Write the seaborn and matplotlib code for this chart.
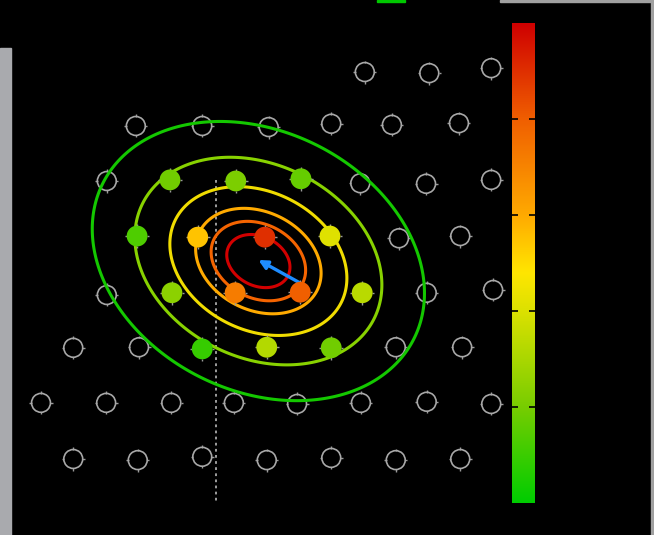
import numpy as np
import pandas as pd
import matplotlib
matplotlib.use("Agg")
import matplotlib.pyplot as plt
from matplotlib.colors import LinearSegmentedColormap
from matplotlib.path import Path
from matplotlib.markers import MarkerStyle
from matplotlib.patches import Rectangle
import seaborn as sns

# ---- samples that were not evaluated (hollow grid points) ----
idle_x = [5.02, 6.02, 6.98,
          1.47, 2.50, 3.53, 4.50, 5.44, 6.48,
          1.02, 4.95, 5.97, 6.98,
          5.55, 6.50,
          1.02, 5.98, 7.01,
          0.50, 1.52, 5.50, 6.53,
          0.00, 1.01, 2.02, 2.99, 3.97, 4.96, 5.98, 6.98,
          0.50, 1.50, 2.50, 3.50, 4.50, 5.50, 6.50]
idle_y = [6.96, 6.94, 7.03,
          5.99, 5.99, 5.97, 6.03, 6.01, 6.04,
          5.00, 4.96, 4.95, 5.02,
          3.97, 4.01,
          2.95, 2.99, 3.04,
          2.00, 2.01, 2.01, 2.01,
          1.01, 1.01, 1.01, 1.01, 0.99, 1.01, 1.03, 0.99,
          0.00, -0.02, 0.04, -0.02, 0.02, -0.02, 0.00]

# ---- evaluated samples and their scores ----
eval_x = [2.00, 3.02, 4.03,
          1.49, 2.43, 3.47, 4.48,
          2.03, 3.01, 4.02, 4.98,
          2.50, 3.50, 4.50]
eval_y = [5.02, 5.00, 5.04,
          4.01, 3.99, 3.99, 4.01,
          2.99, 2.99, 3.00, 2.99,
          1.98, 2.01, 2.00]
eval_score = [0.19, 0.21, 0.17,
              0.13, 0.55, 0.90, 0.41,
              0.24, 0.72, 0.80, 0.33,
              0.09, 0.32, 0.19]

# ---- fitted Gaussian surface ----
mean_xy = [3.37, 3.56]
sigma_xy = [1.20, 1.17]
rho = -0.23
contour_levels = [0.10, 0.28, 0.52, 0.72, 0.83, 0.92]
contour_colors = ["#14c800", "#88d200", "#f0dc00", "#ffaa00", "#f56400", "#d20000"]

# gradient step from an evaluated sample toward the peak
step_tail = [4.01, 3.17]
step_head = [3.37, 3.58]

# cutoff marker
cut_x = 2.71
cut_y = [5.02, -0.79]

# score colour scale
score_cmap = LinearSegmentedColormap.from_list(
    "score",
    [(0.00, "#00cc00"), (0.20, "#78cd00"), (0.40, "#dce100"),
     (0.48, "#ffe600"), (0.60, "#ffaa00"), (0.80, "#f05f00"),
     (1.00, "#cf0000")])
cbar_ticks = [0.2, 0.4, 0.6, 0.8]

sns.set_theme(style="dark", rc={"figure.facecolor": "black",
                                 "axes.facecolor": "black",
                                 "savefig.facecolor": "black"})

fig = plt.figure(figsize=(6.54, 5.35), dpi=100)
ax = fig.add_axes([0, 0, 1, 1])
ax.set_xlim(-41 / 64.5, (654 - 41) / 64.5)
ax.set_ylim((459 - 535) / 55.6, 459 / 55.6)
ax.axis("off")

# window frame pieces
fig.patches.append(Rectangle((0, 0), 11 / 654, (535 - 48) / 535,
                             transform=fig.transFigure, color="#a9aaae", zorder=0))
fig.patches.append(Rectangle((500 / 654, 533 / 535), 154 / 654, 2 / 535,
                             transform=fig.transFigure, color="#a0a0a0", zorder=0))
fig.patches.append(Rectangle((651 / 654, 0), 3 / 654, 1,
                             transform=fig.transFigure, color="#a0a0a0", zorder=0))
fig.patches.append(Rectangle((377 / 654, 533 / 535), 28 / 654, 2 / 535,
                             transform=fig.transFigure, color="#00c800", zorder=0))

# cutoff line
ax.plot([cut_x, cut_x], cut_y, color="#c8c8c8", lw=1.1,
        ls=(0, (1.8, 2.2)), zorder=1)

# small tick marks around each sample
ticks = []
codes = []
for ang in (0, 90, 180, 270):
    c, s = np.cos(np.radians(ang)), np.sin(np.radians(ang))
    ticks += [(0.80 * c, 0.80 * s), (1.0 * c, 1.0 * s)]
    codes += [Path.MOVETO, Path.LINETO]
tick_marker = MarkerStyle(Path(ticks, codes))

ax.scatter(idle_x, idle_y, marker=tick_marker, s=275, facecolors="none",
           edgecolors="#9a9a9a", linewidths=1.0, zorder=2)
ax.scatter(idle_x, idle_y, marker="o", s=185, facecolors="none",
           edgecolors="#a8a8a8", linewidths=1.2, zorder=2)

# Gaussian contours
gx = np.linspace(-1, 9, 500)
gy = np.linspace(-2, 9, 500)
X, Y = np.meshgrid(gx, gy)
dx = (X - mean_xy[0]) / sigma_xy[0]
dy = (Y - mean_xy[1]) / sigma_xy[1]
Q = (dx ** 2 - 2 * rho * dx * dy + dy ** 2) / (1 - rho ** 2)
Z = np.exp(-0.5 * Q)
ax.contour(X, Y, Z, levels=contour_levels, colors=contour_colors,
           linewidths=2.2, zorder=3)

# step arrow
ax.annotate("", xy=step_head, xytext=step_tail,
            arrowprops=dict(arrowstyle="-|>", color="#1e8cff", lw=2.4,
                            mutation_scale=13, shrinkA=0, shrinkB=0),
            zorder=4)

# evaluated samples
df = pd.DataFrame({"x": eval_x, "y": eval_y, "score": eval_score})
ax.scatter(df["x"], df["y"], marker=tick_marker, s=300, facecolors="none",
           edgecolors="#9a9a9a", linewidths=1.0, zorder=4)
sns.scatterplot(data=df, x="x", y="y", hue="score", palette=score_cmap,
                hue_norm=(0, 1), s=225, edgecolor="none", linewidth=0,
                legend=False, ax=ax, zorder=5)
ax.set_xlabel("")
ax.set_ylabel("")

# colour bar
cax = fig.add_axes([512 / 654, (535 - 503) / 535, 23 / 654, 480 / 535])
grad = np.linspace(0, 1, 256).reshape(-1, 1)
cax.imshow(grad, aspect="auto", cmap=score_cmap, origin="lower",
           extent=[0, 1, 0, 1])
cax.set_xlim(0, 1)
cax.set_ylim(0, 1)
cax.set_xticks([])
cax.set_yticks(cbar_ticks)
cax.tick_params(axis="y", direction="in", length=4, width=1.2, colors="black",
                left=True, right=True, labelleft=False, labelright=False)
for sp in cax.spines.values():
    sp.set_visible(False)

fig.savefig("out.png", dpi=100, facecolor="black")
